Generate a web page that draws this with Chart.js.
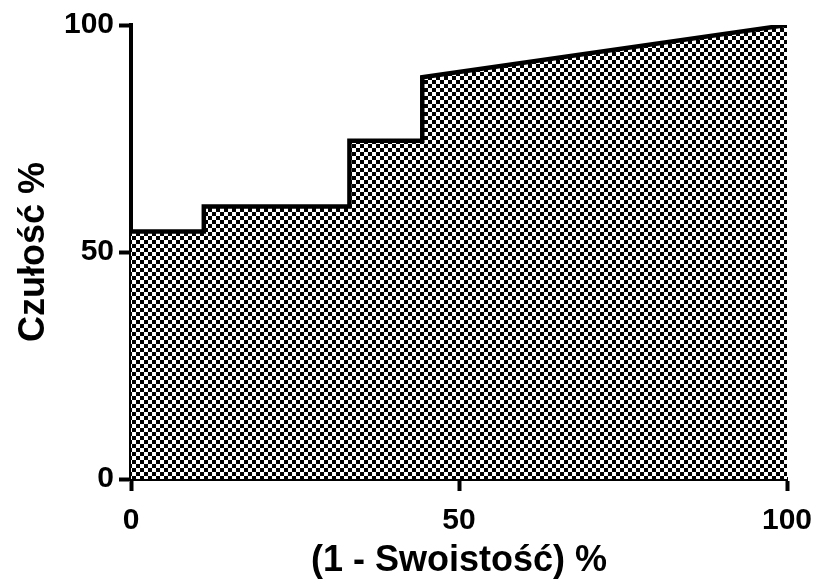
<!DOCTYPE html>
<html>
<head>
<meta charset="utf-8">
<script src="https://cdn.jsdelivr.net/npm/chart.js@4.4.0/dist/chart.umd.min.js"></script>
<style>
  html, body { margin: 0; padding: 0; background: #fff; }
  #wrap { width: 817px; height: 585px; }
</style>
</head>
<body>
<div id="wrap"><canvas id="roc"></canvas></div>
<script>
// ROC curve: 1 - specificity (x) vs sensitivity (y), in %
const fpr = [0, 11.1, 11.1, 33.3, 33.3, 44.4, 44.4, 100];
const sens = [54.5, 54.5, 60, 60, 74.5, 74.5, 88.5, 100];
const tickValues = [0, 50, 100];

// checkered fill like the original plot
function checker() {
  const c = document.createElement("canvas");
  c.width = 8; c.height = 8;
  const g = c.getContext("2d");
  g.fillStyle = "#fff";
  g.fillRect(0, 0, 8, 8);
  g.fillStyle = "#000";
  g.fillRect(0, 0, 4, 4);
  g.fillRect(4, 4, 4, 4);
  return g.createPattern(c, "repeat");
}

const points = fpr.map((x, i) => ({ x: x, y: sens[i] }));
const font = { family: "'Liberation Sans', Arial, sans-serif", weight: "bold" };

const axis = (title, tickPad, titlePad, fixSize) => ({
  type: "linear",
  min: 0,
  max: 100,
  afterBuildTicks: s => { s.ticks = tickValues.map(v => ({ value: v })); },
  grid: {
    display: true,
    drawOnChartArea: false,
    drawTicks: true,
    tickLength: 12,
    tickWidth: 4,
    tickColor: "#000"
  },
  border: { display: true, color: "#000", width: 4 },
  ticks: {
    color: "#000",
    font: { ...font, size: 30 },
    padding: tickPad
  },
  title: {
    display: true,
    text: title,
    color: "#000",
    font: { ...font, size: 36 },
    padding: titlePad
  },
  afterFit: fixSize
});

new Chart(document.getElementById("roc"), {
  type: "line",
  data: {
    datasets: [{
      data: points,
      borderColor: "#000",
      borderWidth: 4.5,
      backgroundColor: checker(),
      fill: "origin",
      pointRadius: 0,
      tension: 0
    }]
  },
  options: {
    responsive: true,
    maintainAspectRatio: false,
    animation: false,
    layout: { padding: { top: 25, right: 30, left: 0, bottom: 0 } },
    plugins: {
      legend: { display: false },
      tooltip: { enabled: false }
    },
    scales: {
      x: axis("(1 - Swoistość) %", 12, 2, s => {
        s.height = 106;
        s.paddingLeft = 0;
        s.paddingRight = 0;
      }),
      y: axis("Czułość %", 5, 12, s => {
        s.width = 131;
        s.paddingTop = 0;
        s.paddingBottom = 0;
      })
    }
  }
});
</script>
</body>
</html>
